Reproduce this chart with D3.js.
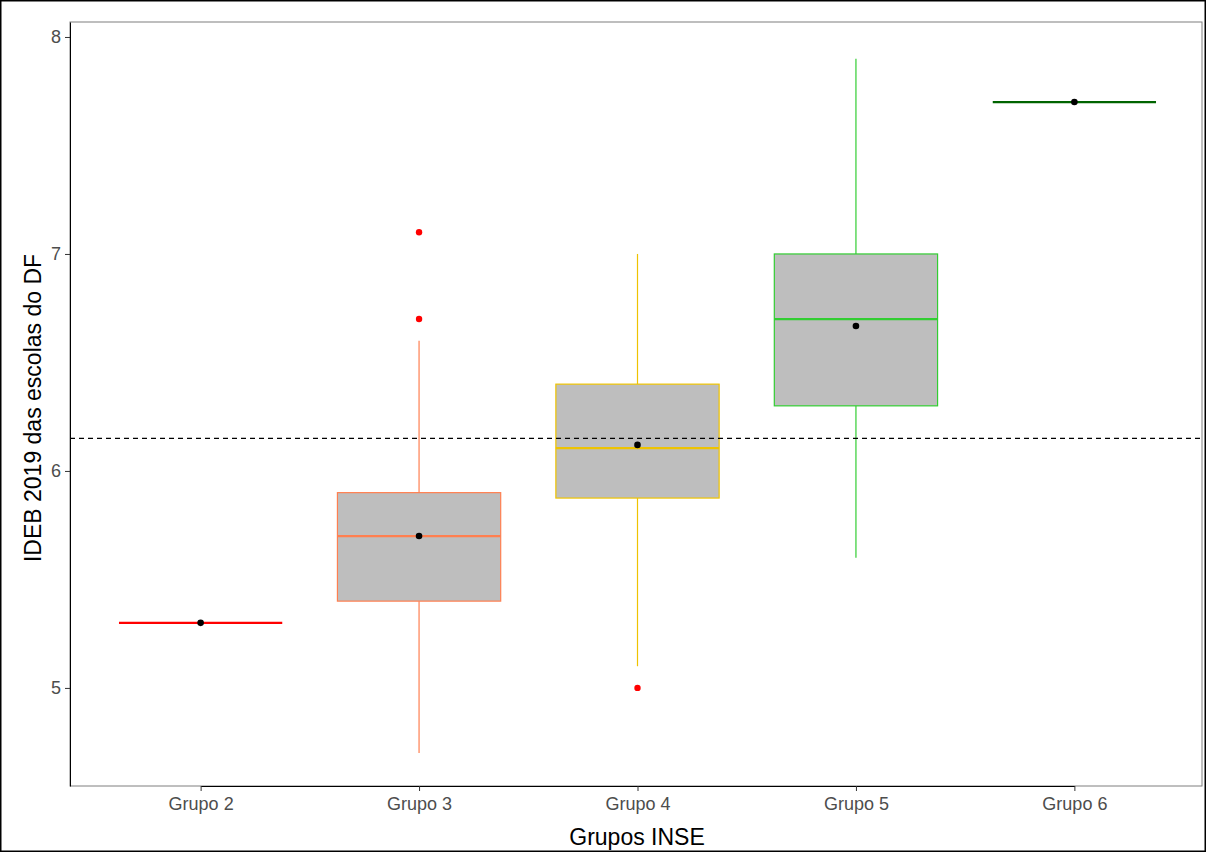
<!DOCTYPE html>
<html><head><meta charset="utf-8">
<script src="https://cdn.jsdelivr.net/npm/d3@7"></script>
<style>body{margin:0;background:#fff}svg{display:block}</style>
</head><body><svg id="c" width="1206" height="852"></svg>
<script>
const categories=["Grupo 2","Grupo 3","Grupo 4","Grupo 5","Grupo 6"];
const colors=["#FF0000","#FF7F50","#EEC300","#32CD32","#006400"];
const q1=[5.3,5.4,5.875,6.3,7.7];
const medians=[5.3,5.7,6.105,6.7,7.7];
const q3=[5.3,5.9,6.4,7.0,7.7];
const whiskLo=[5.3,4.7,5.1,5.6,7.7];
const whiskHi=[5.3,6.6,7.0,7.9,7.7];
const means=[5.3,5.7,6.12,6.668,7.7];
const outliers=[[],[7.1,6.7],[5.0],[],[]];
const yTicks=[5,6,7,8];
const refLine=6.15;

const svg=d3.select("#c");
svg.append("rect").attr("x",0.5).attr("y",0.5).attr("width",1205).attr("height",851).attr("fill","none").attr("stroke","#000").attr("stroke-width",2);
const L=70,R=1202,T=22,B=786;
const xs=d3.scalePoint().domain(categories).range([L+(R-L)*0.6/5.2,R+3-(R-L)*0.6/5.2]);
const y=d3.scaleLinear().domain([4.548,8.069]).range([B,T]);
const bw=(R-L)/5.2*0.75;
svg.append("rect").attr("x",L).attr("y",T).attr("width",R-L).attr("height",B-T).attr("fill","none").attr("stroke","#7f7f7f").attr("stroke-width",1);
const ya=svg.append("g").attr("transform",`translate(${L},0)`).call(d3.axisLeft(y).tickValues(yTicks).tickFormat(d3.format("d")).tickSize(5).tickSizeOuter(0).tickPadding(4));
const xa=svg.append("g").attr("transform",`translate(0,${B})`).call(d3.axisBottom(xs).tickSize(5).tickSizeOuter(0).tickPadding(6));
[ya,xa].forEach(a=>{a.select(".domain").attr("stroke","#000");a.selectAll(".tick line").attr("stroke","#333");a.selectAll("text").attr("fill","#4D4D4D").style("font-family","Liberation Sans, Arial").style("font-size","18px");});
categories.forEach((c,i)=>{
  const cx=xs(c),col=colors[i];
  const g=svg.append("g");
  g.append("line").attr("x1",cx).attr("x2",cx).attr("y1",y(whiskHi[i])).attr("y2",y(q3[i])).attr("stroke",col).attr("stroke-width",1.2);
  g.append("line").attr("x1",cx).attr("x2",cx).attr("y1",y(q1[i])).attr("y2",y(whiskLo[i])).attr("stroke",col).attr("stroke-width",1.2);
  g.append("rect").attr("x",cx-bw/2).attr("width",bw).attr("y",y(q3[i])).attr("height",y(q1[i])-y(q3[i])).attr("fill","#BEBEBE").attr("stroke",col).attr("stroke-width",1.2);
  g.append("line").attr("x1",cx-bw/2).attr("x2",cx+bw/2).attr("y1",y(medians[i])).attr("y2",y(medians[i])).attr("stroke",col).attr("stroke-width",2.2);
  outliers[i].forEach(o=>g.append("circle").attr("cx",cx).attr("cy",y(o)).attr("r",3.2).attr("fill","#FF0000"));
});
svg.append("line").attr("x1",L).attr("x2",R).attr("y1",y(refLine)).attr("y2",y(refLine)).attr("stroke","#000").attr("stroke-dasharray","5,4").attr("stroke-width",1.1);
categories.forEach((c,i)=>svg.append("circle").attr("cx",xs(c)).attr("cy",y(means[i])).attr("r",3.3).attr("fill","#000"));
svg.append("text").attr("x",637).attr("y",845).attr("text-anchor","middle").style("font-family","Liberation Sans, Arial").style("font-size","23px").text("Grupos INSE");
svg.append("text").attr("transform",`translate(41,${(T+B)/2+4}) rotate(-90)`).attr("text-anchor","middle").style("font-family","Liberation Sans, Arial").style("font-size","23px").text("IDEB 2019 das escolas do DF");
</script></body></html>
